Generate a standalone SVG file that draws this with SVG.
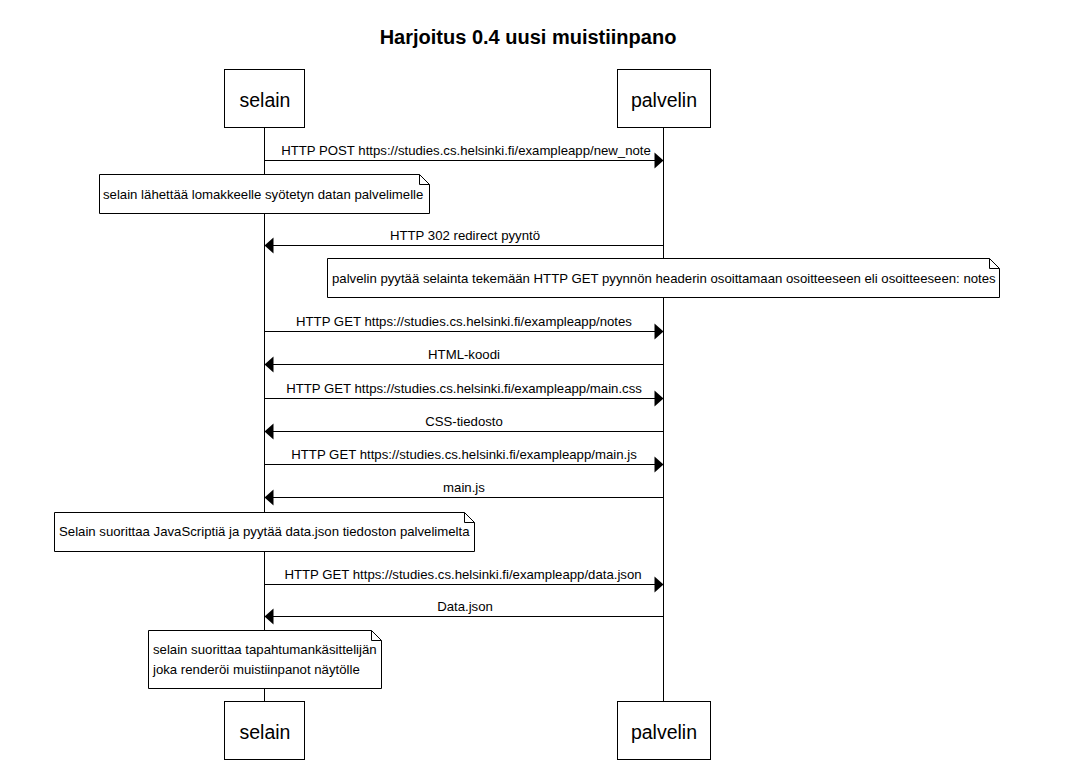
<svg xmlns="http://www.w3.org/2000/svg" width="1066" height="772" viewBox="0 0 1066 772">
<style>
text{font-family:"Liberation Sans",Arial,sans-serif;fill:#000}
.title{font-size:20px;font-weight:bold;text-anchor:middle}
.actor rect{fill:#fff;stroke:#000;stroke-width:1}
.actor text{font-size:19.5px;text-anchor:middle}
.life{stroke:#000;stroke-width:1}
.msg line{stroke:#000;stroke-width:1;marker-end:url(#ah)}
.msg text{font-size:13.2px;text-anchor:middle}
.note path{fill:#fff;stroke:#000;stroke-width:1}
.note text{font-size:13.2px}
</style>
<defs>
<marker id="ah" markerUnits="userSpaceOnUse" markerWidth="10" markerHeight="18" refX="9" refY="8" orient="auto" overflow="visible">
<path d="M0,0 L9,8 L0,16 z" fill="#000"/>
</marker>
</defs>
<rect width="1066" height="772" fill="#fff"/>
<text class="title" x="528" y="44">Harjoitus 0.4 uusi muistiinpano</text>
<g id="lifelines">
<line class="life" x1="264.5" y1="127" x2="264.5" y2="701"/>
<line class="life" x1="663.5" y1="127" x2="663.5" y2="701"/>
</g>
<g id="selain-top" class="actor"><rect x="224.5" y="69.5" width="80" height="58"/><text x="265" y="107">selain</text></g>
<g id="palvelin-top" class="actor"><rect x="617.5" y="69.5" width="93" height="58"/><text x="664" y="107">palvelin</text></g>
<g id="selain-bottom" class="actor"><rect x="224.5" y="701.5" width="80" height="58"/><text x="265" y="739">selain</text></g>
<g id="palvelin-bottom" class="actor"><rect x="617.5" y="701.5" width="93" height="58"/><text x="664" y="739">palvelin</text></g>
<g id="connectors" class="msg">
<line x1="264.5" y1="160.5" x2="663.5" y2="160.5"/>
<text x="466" y="155">HTTP POST https://studies.cs.helsinki.fi/exampleapp/new_note</text>
<line x1="663.5" y1="245.5" x2="264.5" y2="245.5"/>
<text x="465" y="240">HTTP 302 redirect pyyntö</text>
<line x1="264.5" y1="331.5" x2="663.5" y2="331.5"/>
<text x="464" y="326">HTTP GET https://studies.cs.helsinki.fi/exampleapp/notes</text>
<line x1="663.5" y1="364.5" x2="264.5" y2="364.5"/>
<text x="464" y="359">HTML-koodi</text>
<line x1="264.5" y1="398.5" x2="663.5" y2="398.5"/>
<text x="464" y="393">HTTP GET https://studies.cs.helsinki.fi/exampleapp/main.css</text>
<line x1="663.5" y1="431.5" x2="264.5" y2="431.5"/>
<text x="464" y="426">CSS-tiedosto</text>
<line x1="264.5" y1="464.5" x2="663.5" y2="464.5"/>
<text x="464" y="459">HTTP GET https://studies.cs.helsinki.fi/exampleapp/main.js</text>
<line x1="663.5" y1="497.5" x2="264.5" y2="497.5"/>
<text x="464" y="492">main.js</text>
<line x1="264.5" y1="584.5" x2="663.5" y2="584.5"/>
<text x="463" y="579">HTTP GET https://studies.cs.helsinki.fi/exampleapp/data.json</text>
<line x1="663.5" y1="616.5" x2="264.5" y2="616.5"/>
<text x="465" y="611">Data.json</text>
</g>
<g id="note1" class="note">
<path d="M99.5,174.5 H419.5 L429.5,184.5 V213.5 H99.5 Z M419.5,174.5 V184.5 H429.5"/>
<text x="103" y="199">selain lähettää lomakkeelle syötetyn datan palvelimelle</text>
</g>
<g id="note2" class="note">
<path d="M327.5,258.5 H989.5 L999.5,268.5 V297.5 H327.5 Z M989.5,258.5 V268.5 H999.5"/>
<text x="332" y="283">palvelin pyytää selainta tekemään HTTP GET pyynnön headerin osoittamaan osoitteeseen eli osoitteeseen: notes</text>
</g>
<g id="note3" class="note">
<path d="M54.5,512.5 H464.5 L474.5,522.5 V551.5 H54.5 Z M464.5,512.5 V522.5 H474.5"/>
<text x="59" y="536">Selain suorittaa JavaScriptiä ja pyytää data.json tiedoston palvelimelta</text>
</g>
<g id="note4" class="note">
<path d="M148.5,630.5 H371.5 L381.5,640.5 V688.5 H148.5 Z M371.5,630.5 V640.5 H381.5"/>
<text x="153" y="654">selain suorittaa tapahtumankäsittelijän</text>
<text x="153" y="674">joka renderöi muistiinpanot näytölle</text>
</g>
</svg>
